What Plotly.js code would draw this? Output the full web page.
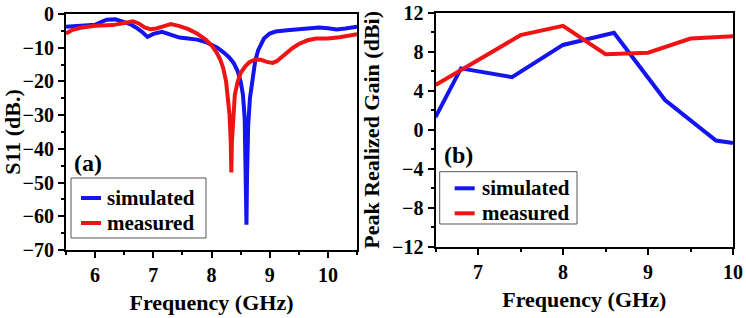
<!DOCTYPE html>
<html>
<head>
<meta charset="utf-8">
<script src="https://cdn.plot.ly/plotly-3.0.1.min.js"></script>
<style>html,body{margin:0;padding:0;background:#fff;}#chart{width:746px;height:318px;}</style>
</head>
<body>
<div id="chart"></div>
<script>
// (a) S11 data
const s11SimFreq = [5.5,5.8,6.0,6.1,6.2,6.35,6.5,6.6,6.7,6.8,6.9,7.0,7.15,7.3,7.45,7.6,7.75,7.9,8.0,8.1,8.2,8.3,8.38,8.45,8.5,8.54,8.57,8.59,8.6,8.61,8.63,8.66,8.7,8.75,8.8,8.85,8.9,9.0,9.1,9.3,9.5,9.7,9.85,10.0,10.15,10.3,10.5];
const s11SimVal  = [-3.8,-3.6,-3.2,-2.4,-1.7,-1.6,-2.3,-3.0,-4.0,-5.2,-6.8,-5.9,-5.3,-6.0,-7.0,-7.3,-7.6,-8.3,-9.0,-10.0,-11.3,-12.8,-14.5,-17,-20,-24,-31,-45,-62.5,-48,-33,-25,-19,-14,-10.8,-8.8,-7.3,-5.8,-5.2,-4.8,-4.5,-4.2,-4.0,-4.2,-4.6,-4.3,-3.8];
const s11MeasFreq = [5.5,5.6,5.75,6.0,6.3,6.5,6.65,6.75,6.85,6.95,7.05,7.2,7.3,7.45,7.6,7.75,7.9,8.0,8.08,8.15,8.2,8.25,8.28,8.31,8.33,8.34,8.35,8.37,8.4,8.45,8.5,8.58,8.65,8.75,8.85,8.95,9.05,9.12,9.2,9.3,9.4,9.5,9.65,9.8,10.0,10.2,10.35,10.5];
const s11MeasVal  = [-5.8,-4.8,-4.1,-3.5,-3.3,-2.8,-2.2,-2.8,-4.0,-4.5,-4.3,-3.5,-3.0,-3.6,-4.5,-5.8,-7.6,-9.3,-11.2,-13.5,-16,-20,-24,-30,-38,-47,-38,-30,-24,-20,-17.5,-15.5,-14.3,-13.5,-13.6,-14.2,-14.5,-14.0,-12.8,-11.3,-10,-8.9,-7.8,-7.3,-7.3,-6.9,-6.4,-6.0];
// (b) gain data
const gainSimFreq = [6.5,6.8,7.4,8.0,8.6,9.2,9.8,10.0];
const gainSimVal  = [1.3,6.3,5.4,8.7,9.95,3.05,-1.1,-1.35];
const gainMeasFreq = [6.5,7.5,8.0,8.5,9.0,9.5,10.0];
const gainMeasVal  = [4.6,9.7,10.65,7.75,7.9,9.35,9.6];

const seriesNames = ['simulated','measured'];
const panelLabels = ['(a)','(b)'];
const blue = '#1414EE', red = '#EE1414';
const seriesColors = [blue, red];
const FONT = '"Liberation Serif", "Times New Roman", Times, serif';

const traces = [
  {x:s11SimFreq, y:s11SimVal, name:seriesNames[0], type:'scatter', mode:'lines', line:{color:blue,width:4}, xaxis:'x', yaxis:'y'},
  {x:s11MeasFreq, y:s11MeasVal, name:seriesNames[1], type:'scatter', mode:'lines', line:{color:red,width:4}, xaxis:'x', yaxis:'y'},
  {x:gainSimFreq, y:gainSimVal, name:seriesNames[0], type:'scatter', mode:'lines', line:{color:blue,width:4}, xaxis:'x2', yaxis:'y2'},
  {x:gainMeasFreq, y:gainMeasVal, name:seriesNames[1], type:'scatter', mode:'lines', line:{color:red,width:4}, xaxis:'x2', yaxis:'y2'}
];

function ax(extra){
  return Object.assign({
    showline:true, linecolor:'#000', linewidth:2, mirror:true,
    ticks:'outside', ticklen:6, tickwidth:2, tickcolor:'#000',
    showgrid:false, zeroline:false,
    tickfont:{family:FONT, size:20, color:'#000', weight:'bold'}
  }, extra);
}
const titleFont = {family:FONT, size:22, color:'#000', weight:'bold'};
const legFont = {family:FONT, size:21, color:'#000', weight:'bold'};

// manual legend boxes (paper coordinates)
const legendBoxes = [
  {box:[0.0952,0.2761,0.2516,0.4403], line:[0.1086,0.1354], rows:[0.3774,0.2987], text:0.1408},
  {box:[0.5894,0.7735,0.2956,0.4601], line:[0.6095,0.6363], rows:[0.4079,0.3292], text:0.6430}
];
const shapes = [], annotations = [];
legendBoxes.forEach(lb => {
  shapes.push({type:'rect', xref:'paper', yref:'paper', x0:lb.box[0], x1:lb.box[1], y0:lb.box[2], y1:lb.box[3],
    line:{color:'#555', width:1}, fillcolor:'#fff', layer:'above'});
  seriesNames.forEach((nm, i) => {
    shapes.push({type:'line', xref:'paper', yref:'paper', x0:lb.line[0], x1:lb.line[1], y0:lb.rows[i], y1:lb.rows[i],
      line:{color:seriesColors[i], width:4}, layer:'above'});
    annotations.push({xref:'paper', yref:'paper', x:lb.text, y:lb.rows[i], text:nm, showarrow:false,
      xanchor:'left', yanchor:'middle', font:legFont});
  });
});
annotations.push(
  {xref:'x', yref:'y', x:5.6, y:-44.2, text:panelLabels[0], showarrow:false, xanchor:'left', yanchor:'middle',
   font:{family:FONT, size:24, color:'#000', weight:'bold'}},
  {xref:'x2', yref:'y2', x:6.58, y:-2.6, text:panelLabels[1], showarrow:false, xanchor:'left', yanchor:'middle',
   font:{family:FONT, size:24, color:'#000', weight:'bold'}}
);

const layout = {
  width:746, height:318,
  margin:{l:0,r:0,t:0,b:0},
  paper_bgcolor:'#fff', plot_bgcolor:'#fff',
  showlegend:false,
  font:{family:FONT, color:'#000'},
  xaxis: ax({domain:[0.0885,0.4786], range:[5.5,10.5], dtick:1, tick0:0,
    minor:{ticks:'outside', ticklen:3, tickwidth:2, dtick:0.5, tick0:0, tickcolor:'#000'},
    anchor:'y', title:{text:'Frequency (GHz)', standoff:10, font:titleFont}}),
  yaxis: ax({domain:[0.2138,0.956], range:[-70,0], dtick:10, tick0:0,
    minor:{ticks:'outside', ticklen:3, tickwidth:2, dtick:5, tick0:0, tickcolor:'#000'},
    anchor:'x', title:{text:'S11 (dB.)', standoff:6, font:titleFont}}),
  xaxis2: ax({domain:[0.5838,0.9826], range:[6.5,10], dtick:1, tick0:0,
    minor:{ticks:'outside', ticklen:3, tickwidth:2, dtick:0.5, tick0:0, tickcolor:'#000'},
    anchor:'y2', title:{text:'Frequency (GHz)', standoff:10, font:titleFont}}),
  yaxis2: ax({domain:[0.2233,0.96], range:[-12,12], dtick:4, tick0:0,
    minor:{ticks:'outside', ticklen:3, tickwidth:2, dtick:2, tick0:0, tickcolor:'#000'},
    anchor:'x2', title:{text:'Peak Realized Gain (dBi)', standoff:6, font:titleFont}}),
  shapes: shapes,
  annotations: annotations
};

Plotly.newPlot('chart', traces, layout, {staticPlot:true, displayModeBar:false});
</script>
</body>
</html>
